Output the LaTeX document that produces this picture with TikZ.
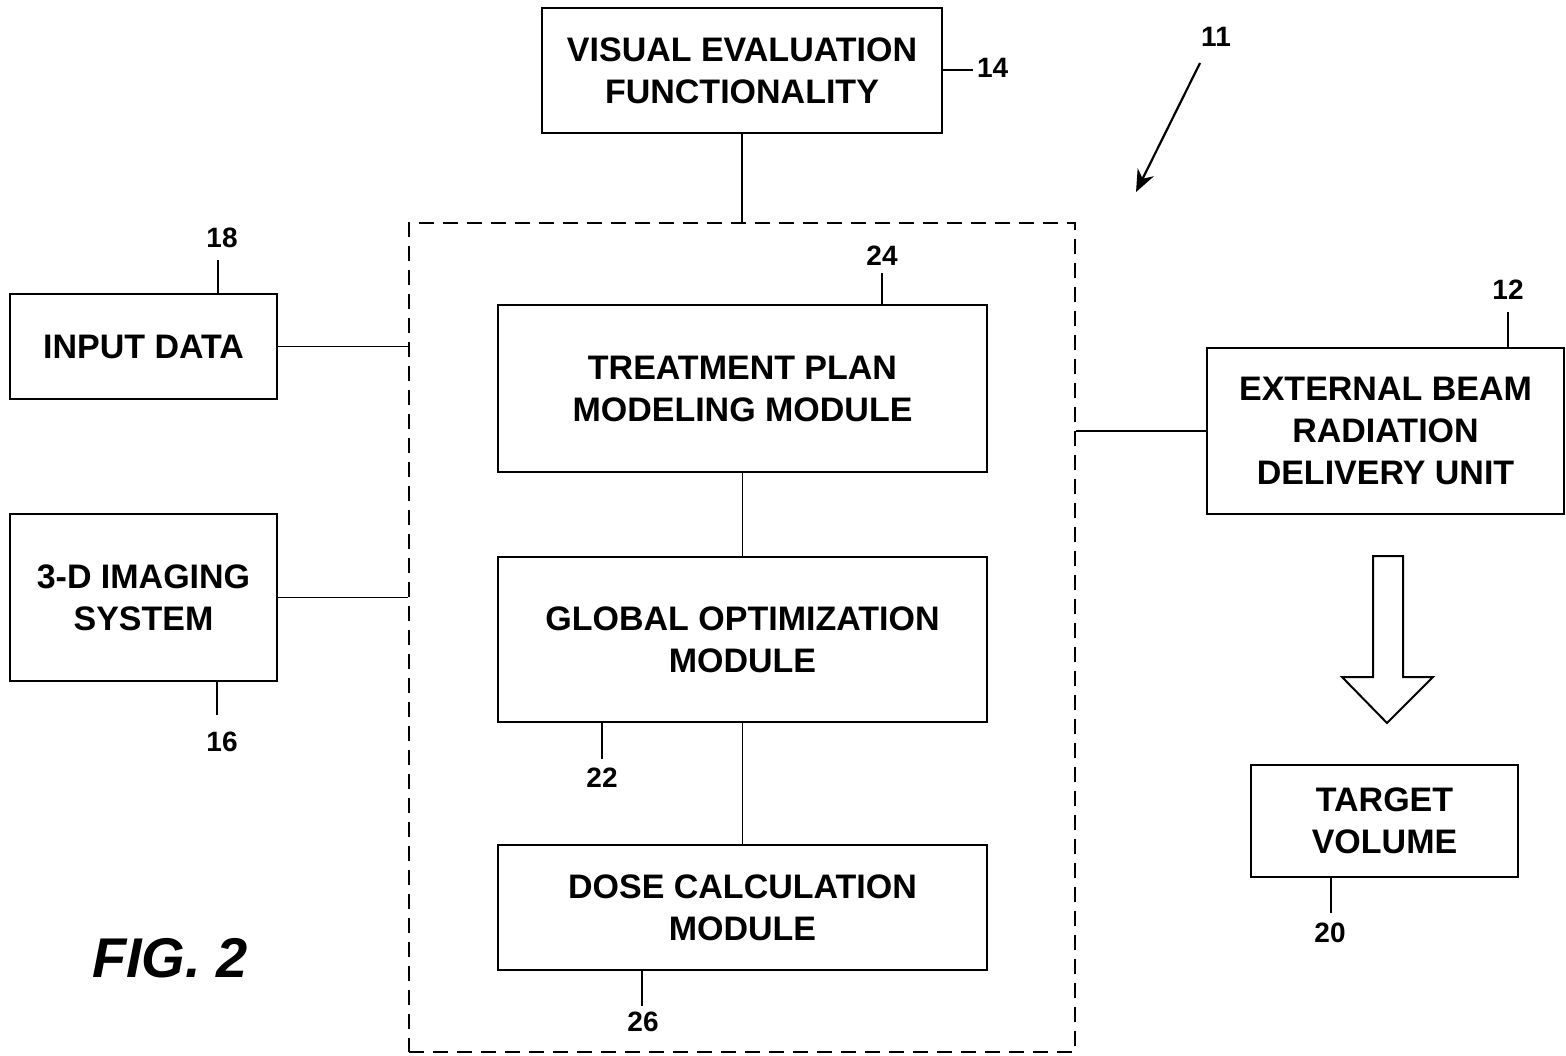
\documentclass[tikz,border=0pt]{standalone}
\usepackage{fontspec}
\setmainfont{Liberation Sans}
\usetikzlibrary{arrows.meta}
\begin{document}
\begin{tikzpicture}[x=0.5pt,y=-0.5pt,
  every path/.style={line width=1pt},
  blk/.style={draw,line width=1pt,inner sep=0pt,align=center,
    font=\fontsize{17}{21}\selectfont\bfseries},
  refnum/.style={inner sep=0pt,font=\fontsize{14}{16}\selectfont\bfseries},
  wire/.style={line width=0.9pt}]
\useasboundingbox (0,0) rectangle (1566,1055);

% system boundary
\node[draw,dashed,dash pattern=on 7.5pt off 4.5pt,line width=1.1pt,
  minimum width=333pt,minimum height=414.5pt,inner sep=0pt] (sys) at (742,637.5) {};

% blocks
\node[blk,minimum width=200pt,minimum height=62.5pt] (vis) at (742,70.5)
  {VISUAL EVALUATION\\FUNCTIONALITY};
\node[blk,minimum width=133.5pt,minimum height=52.5pt] (inp) at (143.5,346.5)
  {INPUT DATA};
\node[blk,minimum width=133.5pt,minimum height=83.5pt] (img) at (143.5,597.5)
  {3-D IMAGING\\SYSTEM};
\node[blk,minimum width=244.5pt,minimum height=83.5pt] (tpm) at (742.5,388.5)
  {TREATMENT PLAN\\MODELING MODULE};
\node[blk,minimum width=244.5pt,minimum height=82.5pt] (gom) at (742.5,639.5)
  {GLOBAL OPTIMIZATION\\MODULE};
\node[blk,minimum width=244.5pt,minimum height=62.5pt] (dcm) at (742.5,907.5)
  {DOSE CALCULATION\\MODULE};
\node[blk,minimum width=178.5pt,minimum height=83pt] (ext) at (1385.5,431)
  {EXTERNAL BEAM\\RADIATION\\DELIVERY UNIT};
\node[blk,minimum width=133.5pt,minimum height=56pt] (tgt) at (1384.5,821)
  {TARGET\\VOLUME};

% connectors
\draw[wire] (vis.south) -- (vis.south |- sys.north);
\draw[wire] (inp.east) -- (inp.east -| sys.west);
\draw[wire] (img.east) -- (img.east -| sys.west);
\draw[wire] (ext.west) -- (ext.west -| sys.east);
\draw[wire] (tpm.south) -- (gom.north);
\draw[wire] (gom.south) -- (dcm.north);

% delivery arrow (hollow)
\draw[line width=1pt,line join=miter]
  (1373,556) -- (1403,556) -- (1403,677) -- (1433,677) -- (1387,723)
  -- (1342,677) -- (1373,677) -- cycle;

% reference numerals
\node[refnum,anchor=west] (n14) at (976,68) {14};
\draw[wire] (vis.east |- 0,70) -- (973,70);

\node[refnum] (n11) at (1216,37) {11};
\coordinate (p11) at (1200,63);
\coordinate (t11) at (1136,192);
\draw[line width=1.1pt,-{Stealth[length=11pt,width=9pt]}] (p11) -- (t11);

\node[refnum] (n18) at (222,238) {18};
\draw[wire] (inp.north -| 218,0) -- (218,260);

\node[refnum] (n16) at (222,742) {16};
\draw[wire] (img.south -| 217,0) -- (217,715);

\node[refnum] (n24) at (882,256) {24};
\draw[wire] (tpm.north -| 882,0) -- (882,273);

\node[refnum] (n22) at (602,778) {22};
\draw[wire] (gom.south -| 602,0) -- (602,759);

\node[refnum] (n26) at (643,1022) {26};
\draw[wire] (dcm.south -| 642,0) -- (642,1006);

\node[refnum] (n12) at (1508,290) {12};
\draw[wire] (ext.north -| 1508,0) -- (1508,312);

\node[refnum] (n20) at (1330,933) {20};
\draw[wire] (tgt.south -| 1331,0) -- (1331,913);

% figure caption
\node[inner sep=0pt,font=\fontsize{28}{30}\selectfont\bfseries\itshape] (fig) at (170,958) {FIG. 2};
\end{tikzpicture}
\end{document}
